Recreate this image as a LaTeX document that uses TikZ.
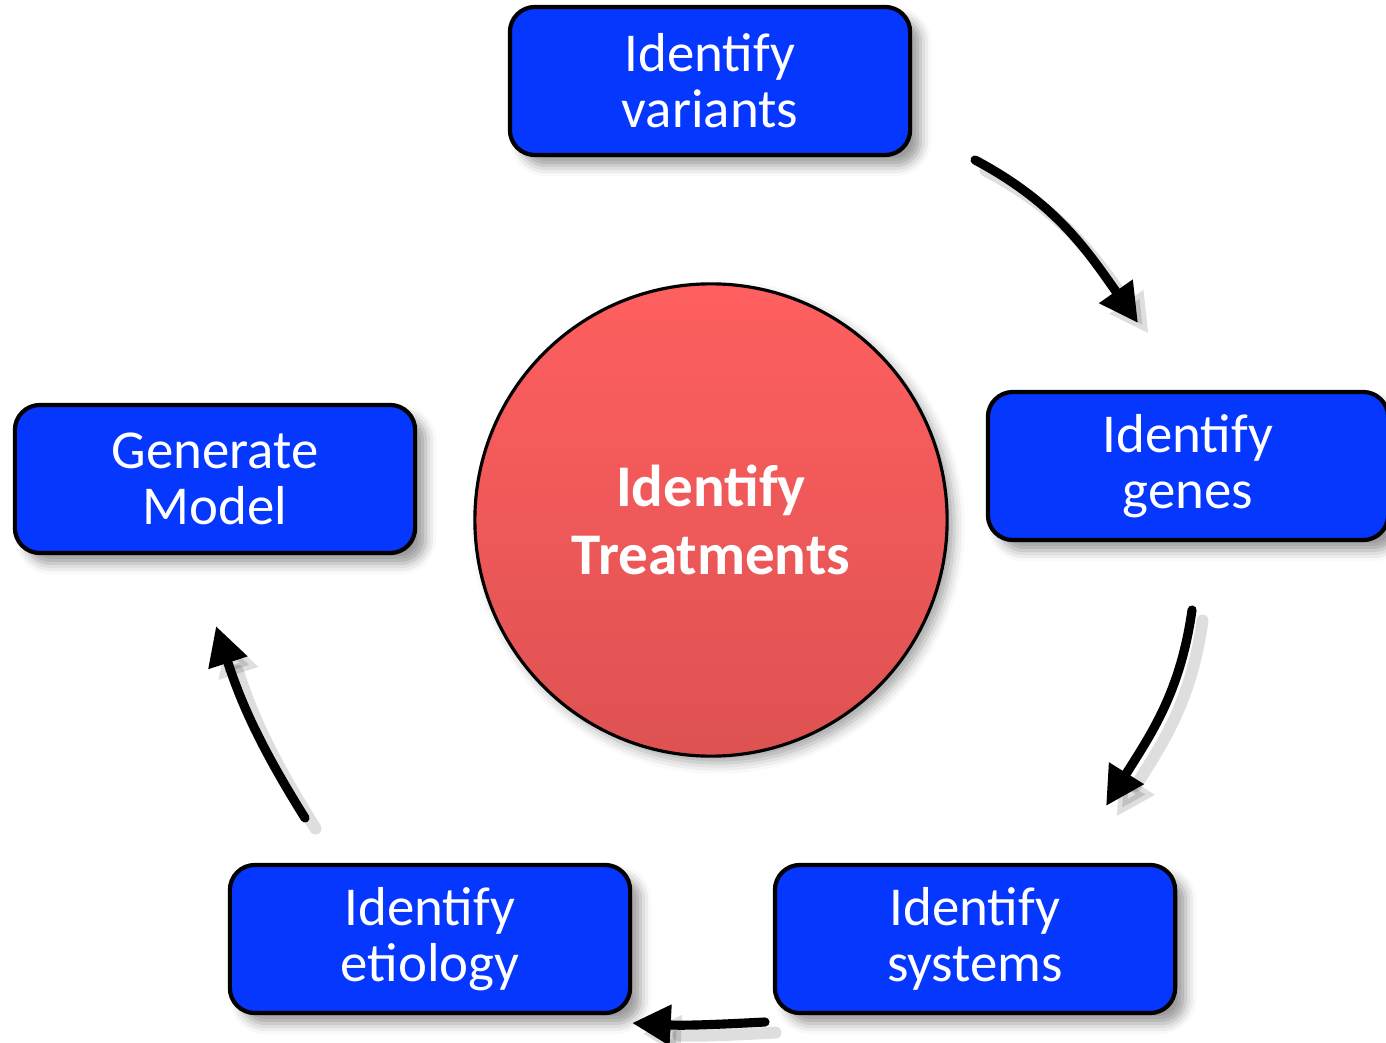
\documentclass[tikz,border=0pt]{standalone}
\usepackage{fontspec}
\setmainfont{Carlito}
\usepackage{tikz}
\usetikzlibrary{arrows.meta}
\usetikzlibrary{shadows.blur}
\usetikzlibrary{positioning}
\definecolor{stepblue}{HTML}{0537FF}
\definecolor{hubtop}{HTML}{FF5F5F}
\definecolor{hubbot}{HTML}{DE5252}

\begin{document}
\begin{tikzpicture}[x=0.01cm, y=0.01cm, line cap=round, line join=round,
    stepbox/.style={rectangle, rounded corners=0.25cm, draw=black, line width=1.2pt,
      fill=stepblue, text=white, align=center, minimum width=4cm, minimum height=1.48cm,
      font=\fontsize{15.6}{15.9}\selectfont,
      blur shadow={shadow xshift=3pt, shadow yshift=-3pt, shadow blur radius=3pt, shadow opacity=40}},
    hub/.style={circle, draw=black, line width=0.9pt, top color=hubtop, bottom color=hubbot,
      text=white, align=center, minimum size=4.72cm, inner sep=0pt,
      font=\fontsize{16.8}{19.3}\selectfont\bfseries,
      blur shadow={shadow xshift=2pt, shadow yshift=-2pt, shadow blur radius=3pt, shadow opacity=35}},
    cycle/.style={line width=2.6pt, -{Triangle[length=11pt, width=11pt]},
      preaction={draw=black, opacity=0.13, line width=3.4pt, transform canvas={shift={(3pt,-3pt)}}}}]

    % frame
    \useasboundingbox (0,0) rectangle (1386,1042);

    % center
    \node[hub] (treat) at (711,522) {Identify\\Treatments};

    % steps
    \node[stepbox] (variants) at (710,961) {Identify\\variants};
    \node[stepbox] (genes) at (1188,576) {Identify\\genes};
    \node[stepbox] (systems) at (975,103) {Identify\\systems};
    \node[stepbox] (etiology) at (430,103) {Identify\\etiology};
    \node[stepbox] (model) at (215,563) {Generate\\Model};

    % arrow ends
    \coordinate (a1s) at (975,882);
    \coordinate (a1e) at (1138,719);
    \coordinate (a2s) at (1192,432);
    \coordinate (a2e) at (1106,236);
    \coordinate (a3s) at (765,20);
    \coordinate (a3e) at (632,19);
    \coordinate (a4s) at (305,224);
    \coordinate (a4e) at (216,416);

    % cycle
    \draw[cycle] (a1s) to[out=-28, in=125] (a1e);
    \draw[cycle] (a2s) to[out=-98, in=58] (a2e);
    \draw[cycle] (a3s) to[out=183, in=-3] (a3e);
    \draw[cycle] (a4s) to[out=122, in=-72] (a4e);

\end{tikzpicture}
\end{document}
